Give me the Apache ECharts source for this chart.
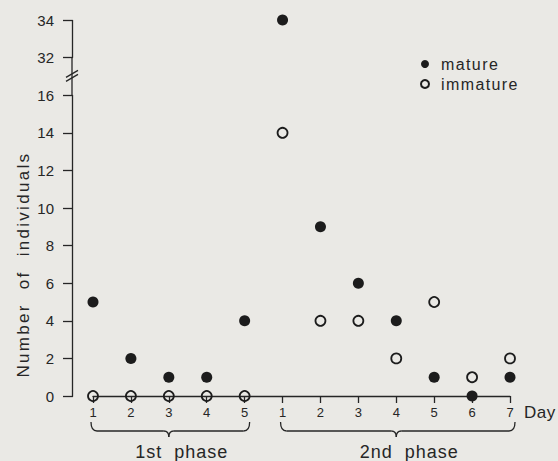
<!DOCTYPE html>
<html>
<head>
<meta charset="utf-8">
<script src="https://cdn.jsdelivr.net/npm/echarts@6/dist/echarts.min.js"></script>
<style>
  html, body { margin: 0; padding: 0; background: #eae9e5; }
  #chart { width: 558px; height: 461px; }
  #chart text { white-space: pre; }
</style>
</head>
<body>
<div id="chart"></div>
<script>
// x position of each sampling day (both phases on one axis) and the label under it
const dayPos = [1, 2, 3, 4, 5, 6, 7, 8, 9, 10, 11, 12];
const dayLabels = ['1', '2', '3', '4', '5', '1', '2', '3', '4', '5', '6', '7'];
// number of individuals per day
const mature = [5, 2, 1, 1, 4, 34, 9, 6, 4, 1, 0, 1];
const immature = [0, 0, 0, 0, 0, 14, 4, 4, 2, 5, 1, 2];
// phases: name, first day position, last day position
const phaseNames = ['1st  phase', '2nd  phase'];
const phaseFrom = [1, 6];
const phaseTo = [5, 12];
// y axis break between these values
const yBreak = [16, 32];
const yTitle = 'Number  of  individuals';

const ink = '#262626';
const font = '"Liberation Sans", Arial, sans-serif';

const chart = echarts.init(document.getElementById('chart'), null, { renderer: 'svg' });

chart.setOption({
    backgroundColor: '#eae9e5',
    animation: false,
    textStyle: { fontFamily: font, color: ink },
    grid: { left: 93, right: 48, top: 20, bottom: 65 },
    legend: {
        orient: 'vertical',
        left: 415,
        top: 51,
        itemWidth: 8,
        itemHeight: 8,
        itemGap: 4,
        textStyle: { fontSize: 16, color: ink, padding: [0, 0, 0, 7] },
        data: ['mature', 'immature']
    },
    xAxis: {
        type: 'value',
        min: 1,
        max: 12,
        interval: 1,
        splitLine: { show: false },
        axisLine: { lineStyle: { color: ink, width: 1.3 } },
        axisTick: { length: 7, lineStyle: { color: ink, width: 1.3 } },
        axisLabel: {
            margin: 10,
            fontSize: 13,
            color: ink,
            formatter: function (v) {
                const i = dayPos.indexOf(v);
                return i >= 0 ? dayLabels[i] : '';
            }
        },
        name: 'Day',
        nameLocation: 'end',
        nameGap: 14,
        nameTextStyle: { fontSize: 17, color: ink, verticalAlign: 'top', padding: [8, 0, 0, 0] }
    },
    yAxis: {
        type: 'value',
        min: 0,
        max: 34,
        interval: 2,
        offset: 21,
        breaks: [{ start: yBreak[0], end: yBreak[1], gap: 2 }],
        breakArea: { show: false },
        splitLine: { show: false },
        axisLine: { show: true, lineStyle: { color: ink, width: 1.3 } },
        axisTick: { show: true, length: 9, lineStyle: { color: ink, width: 1.3 } },
        axisLabel: { margin: 18, fontSize: 15, color: ink }
    },
    series: [
        {
            name: 'mature',
            type: 'scatter',
            symbol: 'circle',
            symbolSize: 11,
            itemStyle: { color: '#1c1c1c', opacity: 1 },
            data: dayPos.map((d, i) => [d, mature[i]])
        },
        {
            name: 'immature',
            type: 'scatter',
            symbol: 'circle',
            symbolSize: 10,
            itemStyle: { color: 'rgba(0,0,0,0)', borderColor: '#1c1c1c', borderWidth: 1.8, opacity: 1 },
            data: dayPos.map((d, i) => [d, immature[i]])
        }
    ]
});

// braces, phase names, y axis title and the break mark, placed from the axes
const px = (x, y) => chart.convertToPixel({ gridIndex: 0 }, [x, y]);
const stroke = { stroke: ink, lineWidth: 1.3, fill: null };
const graphics = [];
const line = (x1, y1, x2, y2) => graphics.push({ type: 'line', shape: { x1, y1, x2, y2 }, style: stroke });
const curve = (x1, y1, cpx1, cpy1, x2, y2) =>
    graphics.push({ type: 'bezierCurve', shape: { x1, y1, cpx1, cpy1, x2, y2 }, style: stroke });

const y0 = px(1, 0)[1];
for (let i = 0; i < phaseNames.length; i++) {
    const a = px(phaseFrom[i], 0)[0] - 2;
    const b = px(phaseTo[i], 0)[0] + 5;
    const m = px((phaseFrom[i] + phaseTo[i]) / 2, 0)[0];
    const top = y0 + 26, mid = y0 + 35, tip = y0 + 41;
    curve(a, top, a, mid, a + 6, mid);
    line(a + 6, mid, m - 5, mid);
    curve(m - 5, mid, m, mid, m, tip);
    curve(m, tip, m, mid, m + 5, mid);
    line(m + 5, mid, b - 6, mid);
    curve(b - 6, mid, b, mid, b, top);
    graphics.push({
        type: 'text',
        x: m + 13,
        y: y0 + 56,
        style: { text: phaseNames[i], fontSize: 18, fontFamily: font, fill: ink, align: 'center', verticalAlign: 'middle' }
    });
}
const axisX = px(1, 0)[0] - 21;
const yLow = px(1, yBreak[0])[1];
const yHigh = px(1, yBreak[1])[1];
const yb = (yLow + yHigh) / 2;
// join the axis line across the break and mark it with //
line(axisX, yHigh, axisX, yLow);
line(axisX - 6, yb + 1, axisX + 6, yb - 6);
line(axisX - 6, yb + 5, axisX + 6, yb - 2);
graphics.push({
    type: 'text',
    x: 23,
    y: (y0 + yLow) / 2 + 19,
    rotation: Math.PI / 2,
    style: { text: yTitle, fontSize: 17, fontFamily: font, fill: ink, align: 'center', verticalAlign: 'middle' }
});
chart.setOption({ graphic: graphics });

// the printed figure uses wide letter spacing on its words
const tracking = { mature: 1.4, immature: 1.4, Day: 0.5 };
tracking[yTitle] = 2.3;
phaseNames.forEach(n => { tracking[n] = 1; });
function applyTracking() {
    document.querySelectorAll('#chart text').forEach(t => {
        const s = tracking[t.textContent];
        if (s != null) t.setAttribute('letter-spacing', s + 'px');
    });
}
chart.on('finished', applyTracking);
applyTracking();
</script>
</body>
</html>
